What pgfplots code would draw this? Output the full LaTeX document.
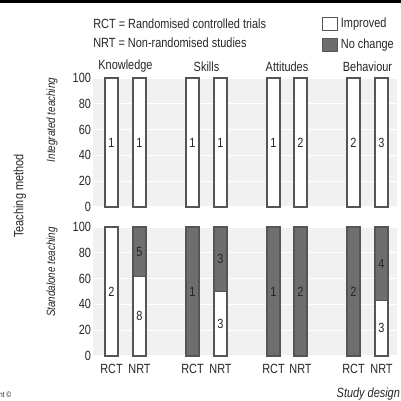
\documentclass[border=0pt]{standalone}
\usepackage{pgfplots}
\pgfplotsset{compat=1.18}
\usepackage{fontspec}
\setmainfont{Liberation Sans}[FakeStretch=0.82]
\definecolor{bg}{HTML}{F1F1F1}
\definecolor{nochg}{HTML}{6E6E6E}
\definecolor{edge}{HTML}{555555}
\definecolor{txt}{HTML}{262626}

\pgfplotsset{
  panel/.style={
    scale only axis, width=228pt, height=96.75pt, anchor=south west,
    xmin=93, xmax=397, ymin=0, ymax=100,
    axis line style={draw=none}, major tick length=0pt,
    ytick={0,20,...,100}, ymajorgrids, grid style={white, line width=0.9pt},
    axis background/.style={fill=bg},
    /pgf/number format/assume math mode=true,
    tick label style={font=\fontsize{10}{12}\selectfont, text=txt},
    yticklabel style={xshift=2pt},
    clip=false,
  },
  bar/.style={ybar, bar width=9.75pt, bar shift=0pt, draw=edge, line width=0.8pt},
  lbl/.style={only marks, mark=none, forget plot, point meta=explicit symbolic,
    nodes near coords,
    every node near coord/.append style={anchor=center, font=\fontsize{10}{12}\selectfont, text=txt}},
}

\begin{document}
\begin{tikzpicture}[font=\fontsize{10}{12}\selectfont]
\clip (0,0) rectangle (300.75pt,-300.75pt);
\fill[black] (0,0) rectangle (300.75pt,-2.6pt);

% integrated teaching
\begin{axis}[panel, at={(69.75pt,-155.25pt)},
  xtick={125.5,206.5,287,367.5},
  xticklabels={Knowledge,Skills,Attitudes,Behaviour},
  xticklabel pos=right,
  xticklabel style={yshift=1pt},
  legend style={at={(rel axis cs:0.753,1.49)}, anchor=north west,
    draw=none, fill=none, inner sep=0pt, row sep=3pt,
    font=\fontsize{10}{12}\selectfont, text=txt},
  legend cell align=left,
  legend image code/.code={\draw[#1] (0pt,-4.875pt) rectangle (11.25pt,4.875pt);},
]
\addplot[bar, fill=white] table {
x y
111.5 100
139.5 100
192.5 100
220.5 100
273.5 100
300.5 100
353.5 100
381.5 100
};
\addlegendentry{Improved}
\addlegendimage{fill=nochg, draw=edge, line width=0.8pt}
\addlegendentry{No change}
\addplot[lbl] table[meta=l] {
x y l
111.5 50 1
139.5 50 1
192.5 50 1
220.5 50 1
273.5 50 1
300.5 50 2
353.5 50 2
381.5 50 3
};
\end{axis}

% standalone teaching
\begin{axis}[panel, at={(69.75pt,-267pt)},
  xtick={111.5,139.5,192.5,220.5,273.5,300.5,353.5,381.5},
  xticklabels={RCT,NRT,RCT,NRT,RCT,NRT,RCT,NRT},
  xticklabel style={yshift=-2.5pt},
]
\addplot[bar, fill=nochg] table {
x y
139.5 100
192.5 100
220.5 100
273.5 100
300.5 100
353.5 100
381.5 100
};
\addplot[bar, fill=white] table {
x y
111.5 100
139.5 61.54
220.5 50
381.5 42.86
};
\addplot[lbl] table[meta=l] {
x y l
111.5 50 2
139.5 30.8 8
139.5 80.8 5
192.5 50 1
220.5 25 3
220.5 75 3
273.5 50 1
300.5 50 2
353.5 50 2
381.5 21.4 3
381.5 71.4 4
};
\end{axis}

\node[anchor=west, inner sep=0pt, text=txt] at (69.75pt,-18pt) {RCT = Randomised controlled trials};
\node[anchor=west, inner sep=0pt, text=txt] at (69.75pt,-32.25pt) {NRT = Non-randomised studies};
\node[rotate=90, text=txt, font=\fontsize{9}{11}\selectfont\itshape] at (39pt,-90pt) {Integrated teaching};
\node[rotate=90, text=txt, font=\fontsize{9}{11}\selectfont\itshape] at (39pt,-204pt) {Standalone teaching};
\node[rotate=90, text=txt] at (15pt,-147pt) {Teaching method};
\node[anchor=west, text=txt, font=\fontsize{10}{12}\selectfont\itshape] at (249pt,-295.5pt) {Study design};
\node[anchor=east, text=txt, font=\fontsize{6}{7}\selectfont] at (12pt,-296pt) {nt \textcopyright};
\end{tikzpicture}
\end{document}
